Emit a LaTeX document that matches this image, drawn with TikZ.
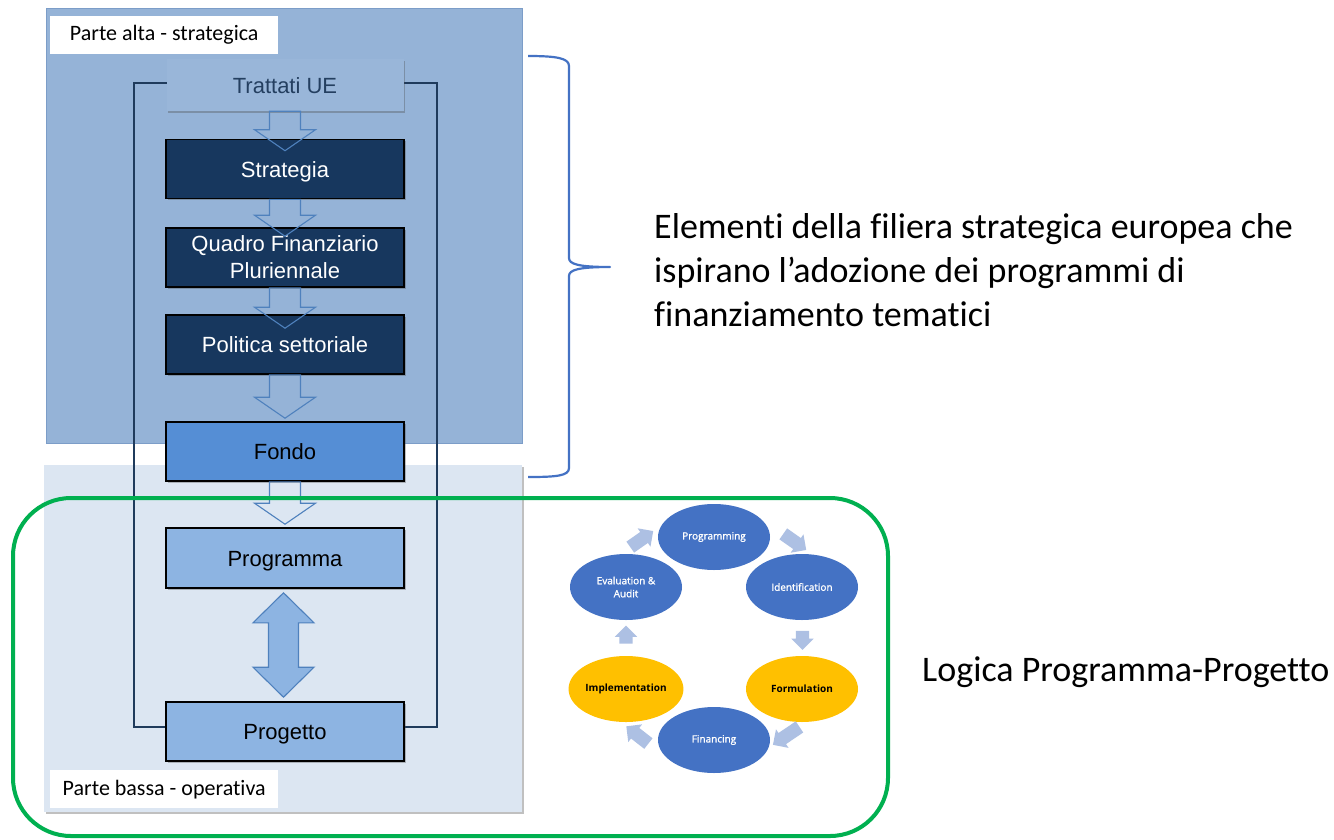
\documentclass[tikz,border=0pt]{standalone}
\usepackage{fontspec}
\setmainfont{Liberation Sans}
\newfontfamily\calib[Ligatures=NoCommon]{Carlito}
\newfontfamily\cycfont[FakeBold=1.2]{Open Sans}
\newfontfamily\cycbold{Open Sans}
\usetikzlibrary{calc,shadows,shapes.geometric,shapes.arrows}

\definecolor{topbg}{HTML}{95B3D7}
\definecolor{topedge}{HTML}{7C9DC8}
\definecolor{botbg}{HTML}{DCE6F2}
\definecolor{navy}{HTML}{17375E}
\definecolor{framecol}{HTML}{1F3B5C}
\definecolor{fondocol}{HTML}{558ED5}
\definecolor{progcol}{HTML}{8DB4E2}
\definecolor{hollowedge}{HTML}{4F81BD}
\definecolor{bracecol}{HTML}{4472C4}
\definecolor{greencol}{HTML}{00B050}
\definecolor{cycblue}{HTML}{4472C4}
\definecolor{cycyellow}{HTML}{FFC000}
\definecolor{cycarrow}{HTML}{ADC0E3}
\definecolor{trattatitext}{HTML}{243F60}

\pgfdeclarelayer{back}
\pgfdeclarelayer{arrowfill}
\pgfsetlayers{back,arrowfill,main}

\tikzset{
  softshadow/.style={drop shadow={shadow xshift=1.5pt,shadow yshift=-1.5pt,opacity=0.35,fill=black!70}},
  tagbox/.style={fill=white,minimum width=228,minimum height=38,inner sep=0,
    font=\calib\fontsize{22}{26}\selectfont},
  stepbox/.style={draw=black,line width=1.6,minimum width=238,minimum height=59,inner sep=0,
    align=center,font=\fontsize{22}{27}\selectfont,softshadow},
  oneline/.style={text height=16pt,text depth=0pt},
  hollowline/.style={draw=hollowedge,line width=1.1,line join=miter},
  phase/.style={ellipse,minimum width=112,minimum height=66,inner sep=0,align=center,
    font=\cycfont\fontsize{10}{13}\selectfont},
  bluephase/.style={phase,fill=cycblue,text=white},
  yellowphase/.style={phase,fill=cycyellow,text=black,font=\cycbold\bfseries\fontsize{10}{13}\selectfont},
  cycarr/.style={single arrow,fill=cycarrow,draw=none,inner xsep=0,inner ysep=6.5pt,
    single arrow head extend=4.5pt,single arrow head indent=0,minimum height=#1},
  sidetext/.style={font=\calib\fontsize{36}{44}\selectfont,align=left,inner sep=0},
}

% hollow down arrow from the bottom of #1 to just around the top of #2:
% the body goes on a layer under the boxes, the outline on top of them
\newcommand\flowarrow[4]{%
  \begin{pgfonlayer}{arrowfill}
  \fill[#4] let \p1=(#1.south), \p2=($(#2.north)+(0,#3)$) in
    (\x1-15.5pt,\y1) -- (\x1-15.5pt,\y2+21pt) -- (\x1-30.5pt,\y2+21pt) -- (\x1,\y2)
    -- (\x1+30.5pt,\y2+21pt) -- (\x1+15.5pt,\y2+21pt) -- (\x1+15.5pt,\y1) -- cycle;
  \end{pgfonlayer}
  \draw[hollowline] let \p1=(#1.south), \p2=($(#2.north)+(0,#3)$) in
    (\x1-15.5pt,\y1) -- (\x1-15.5pt,\y2+21pt) -- (\x1-30.5pt,\y2+21pt) -- (\x1,\y2)
    -- (\x1+30.5pt,\y2+21pt) -- (\x1+15.5pt,\y2+21pt) -- (\x1+15.5pt,\y1) -- cycle;}

\begin{document}
\begin{tikzpicture}[x=1pt,y=-1pt]
\useasboundingbox (0,0) rectangle (1334,839);

\begin{pgfonlayer}{back}
\fill[white] (0,0) rectangle (1334,839);
% the two panels
\node[fill=botbg,minimum width=478,minimum height=347,inner sep=0,anchor=north west,softshadow] (bassa) at (44,465) {};
\node[fill=topbg,draw=topedge,line width=1,minimum width=476,minimum height=435,inner sep=0,anchor=north west] (alta) at (46,8) {};
\node[tagbox,anchor=north west] (altatag) at (50,16) {Parte alta - strategica};
\node[tagbox,anchor=north west] (bassatag) at (50,770) {Parte bassa - operativa};
% outer loop line
\draw[framecol,line width=2] (134,83) rectangle (437,727);
\end{pgfonlayer}

% boxes
\node[fill=topbg!96!white,minimum width=237,minimum height=52,inner sep=0,softshadow,oneline,
  text=trattatitext,font=\fontsize{22}{27}\selectfont] (trattati) at (285,85) {Trattati UE};
\node[stepbox,oneline,fill=navy,text=white] (strategia) at (285,169) {Strategia};
\node[stepbox,fill=navy,text=white] (qfp) at (285,257.5) {Quadro Finanziario\\Pluriennale};
\node[stepbox,oneline,fill=navy,text=white] (politica) at (285,344.5) {Politica settoriale};
\node[stepbox,oneline,fill=fondocol,text=black] (fondo) at (285,451.5) {Fondo};
\node[stepbox,oneline,fill=progcol,text=black,minimum height=60] (programma) at (285,558) {Programma};
\node[stepbox,oneline,fill=progcol,text=black] (progetto) at (285,731.5) {Progetto};

% arrows between the steps
\flowarrow{trattati}{strategia}{12}{topbg}
\flowarrow{strategia}{qfp}{9}{topbg}
\flowarrow{qfp}{politica}{14}{topbg}
\flowarrow{politica}{fondo}{-3}{topbg}
\flowarrow{fondo}{programma}{-3}{botbg}

% two-way arrow between Programma and Progetto
\path[hollowline,fill=progcol] let \p1=($(programma.south)+(-1.5,4)$), \p2=($(progetto.north)+(0,-4)$) in
  (\x1,\y1) -- (\x1+30.5pt,\y1-30pt) -- (\x1+15pt,\y1-30pt) -- (\x1+15pt,\y2+30pt)
  -- (\x1+30.5pt,\y2+30pt) -- (\x1,\y2) -- (\x1-30.5pt,\y2+30pt) -- (\x1-15pt,\y2+30pt)
  -- (\x1-15pt,\y1-30pt) -- (\x1-30.5pt,\y1-30pt) -- cycle;

% brace over the strategic part
\coordinate (bracetop) at (528,56);
\coordinate (bracetip) at (610,267);
\coordinate (bracebot) at (528,477);
\draw[bracecol,line width=2.2,line join=round]
  (bracetop) .. controls (556,56) and (569,58) .. (569,66) -- (569,258)
  .. controls (569,264) and (578,267) .. (bracetip)
  .. controls (578,267) and (569,270) .. (569,276) -- (569,468)
  .. controls (569,476) and (556,477) .. (bracebot);

\node[sidetext,anchor=west] (filiera) at (654,270)
  {Elementi della filiera strategica europea che\\ispirano l’adozione dei programmi di\\finanziamento tematici};

% operational frame
\draw[greencol,line width=4,rounded corners=58] (13,498) rectangle (888,836);

% project cycle
\node[bluephase] (programming) at (714,537) {Programming};
\node[bluephase] (identification) at (802,587) {Identification};
\node[yellowphase] (formulation) at (802,689) {Formulation};
\node[bluephase] (financing) at (714,740) {Financing};
\node[yellowphase] (implementation) at (626,689) {Implementation};
\node[bluephase] (evaluation) at (626,587) {Evaluation \&\\Audit};

\node[cycarr=28,rotate=35] (c1) at (639,541) {};
\node[cycarr=28,rotate=-35] (c2) at (792,540) {};
\node[cycarr=19,rotate=-90] (c3) at (802.5,637) {};
\node[cycarr=32,rotate=-146] (c4) at (789,734) {};
\node[cycarr=28,rotate=142] (c5) at (640,737) {};
\node[cycarr=18,rotate=90] (c6) at (626,638) {};

\node[sidetext,anchor=west] (logica) at (922,672) {Logica Programma-Progetto};
\end{tikzpicture}
\end{document}
